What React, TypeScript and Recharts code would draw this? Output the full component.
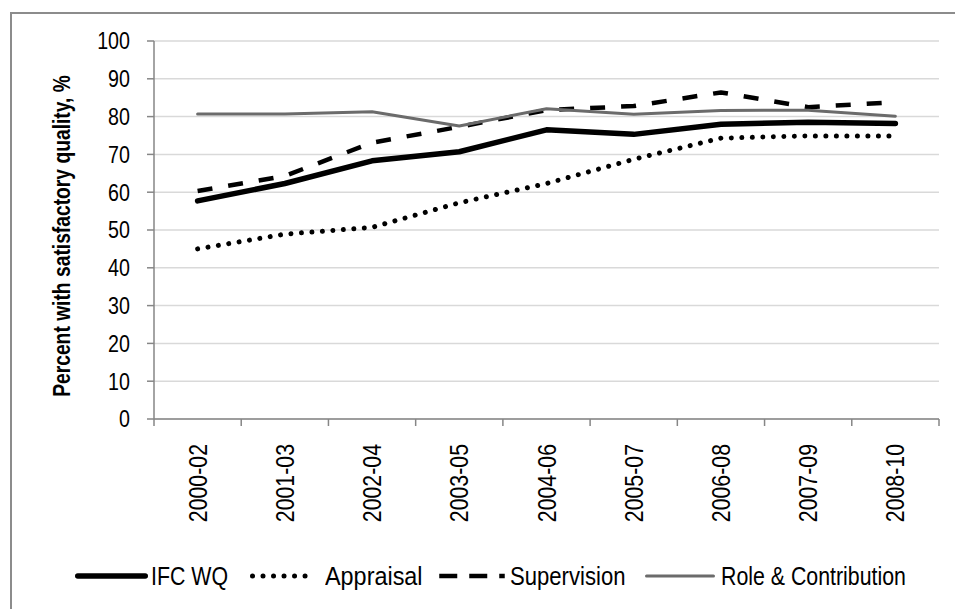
import React from 'react';
import { ComposedChart, Line, XAxis, YAxis, CartesianGrid, Legend } from 'recharts';

const categories = ['2000-02', '2001-03', '2002-04', '2003-05', '2004-06', '2005-07', '2006-08', '2007-09', '2008-10'];
const ifcWQ = [57.7, 62.3, 68.3, 70.7, 76.5, 75.3, 78.0, 78.5, 78.2];
const appraisal = [45.0, 48.9, 50.7, 57.2, 62.3, 68.7, 74.3, 74.9, 74.9];
const supervision = [60.3, 64.3, 73.1, 77.3, 81.7, 82.8, 86.4, 82.5, 83.8];
const roleContribution = [80.7, 80.7, 81.3, 77.5, 82.1, 80.6, 81.6, 81.7, 80.1];
const yTicks = [0, 10, 20, 30, 40, 50, 60, 70, 80, 90, 100];
const yTitle = 'Percent with satisfactory quality, %';

const data = categories.map((c, i) => ({
  cat: c,
  ifc: ifcWQ[i],
  appraisal: appraisal[i],
  supervision: supervision[i],
  role: roleContribution[i],
}));

const FONT = "'Liberation Sans', Arial, sans-serif";
const NARROW = 0.82;

const W = 955;
const H = 609;
const M = { top: 41, right: 16, left: 10, bottom: 80 };
const Y_W = 144;
const PLOT_W = W - M.left - M.right - Y_W;
const HALF_BAND = PLOT_W / categories.length / 2;

const series = [
  { key: 'ifc', name: 'IFC WQ', color: '#000000', width: 5.5, dash: undefined as string | undefined, legendDash: undefined as string | undefined, cap: 'round', legendLeft: 75, iconW: 73, textGap: 3, textScale: NARROW },
  { key: 'appraisal', name: 'Appraisal', color: '#000000', width: 5, dash: '0.01 10.5', legendDash: '0.01 10.5', cap: 'round', legendLeft: 250, iconW: 67, textGap: 8, textScale: 0.9 },
  { key: 'supervision', name: 'Supervision', color: '#000000', width: 4.5, dash: '15 16', legendDash: '18 12', cap: 'butt', legendLeft: 437, iconW: 70, textGap: 3, textScale: 0.85 },
  { key: 'role', name: 'Role & Contribution', color: '#6b6b6b', width: 3, dash: undefined as string | undefined, legendDash: undefined as string | undefined, cap: 'round', legendLeft: 645, iconW: 70, textGap: 6, textScale: NARROW },
];

const XTick = (props: any) => {
  const { x, y, payload, index } = props;
  const last = index === categories.length - 1;
  return (
    <g>
      <line x1={x - HALF_BAND} x2={x - HALF_BAND} y1={y} y2={y + 7} stroke="#868686" strokeWidth={1.5} />
      {last && <line x1={x + HALF_BAND} x2={x + HALF_BAND} y1={y} y2={y + 7} stroke="#868686" strokeWidth={1.5} />}
      <text
        x={0}
        y={0}
        transform={`translate(${x}, ${y + 25}) rotate(-90) scale(${NARROW}, 1)`}
        textAnchor="end"
        dy="0.35em"
        fontFamily={FONT}
        fontSize={26}
        fill="#000"
      >
        {payload.value}
      </text>
    </g>
  );
};

const YTick = (props: any) => {
  const { x, y, payload } = props;
  return (
    <text
      x={0}
      y={0}
      transform={`translate(${x}, ${y}) scale(${NARROW}, 1)`}
      textAnchor="end"
      dy="0.35em"
      fontFamily={FONT}
      fontSize={24}
      fill="#000"
    >
      {payload.value}
    </text>
  );
};

const YTitle = (props: any) => {
  const vb = props.viewBox || { y: 41, height: 378 };
  const cy = vb.y + vb.height / 2 + 6;
  return (
    <text
      x={0}
      y={0}
      transform={`translate(62, ${cy}) rotate(-90) scale(${NARROW}, 1)`}
      textAnchor="middle"
      dy="0.35em"
      fontFamily={FONT}
      fontSize={23.5}
      fontWeight="bold"
      fill="#000"
    >
      {yTitle}
    </text>
  );
};

const LegendContent = () => (
  <div style={{ position: 'relative', width: W, height: 30, fontFamily: FONT, fontSize: 26 }}>
    {series.map((s) => (
      <div key={s.key} style={{ position: 'absolute', left: s.legendLeft, top: 0, height: 30, display: 'flex', alignItems: 'center', whiteSpace: 'nowrap' }}>
        <svg width={s.iconW} height={30} style={{ display: 'block' }}>
          <line
            x1={s.width / 2}
            x2={s.iconW - s.width / 2}
            y1={15}
            y2={15}
            stroke={s.color}
            strokeWidth={s.width}
            strokeDasharray={s.legendDash}
            strokeLinecap={s.cap as any}
          />
        </svg>
        <span style={{ marginLeft: s.textGap, color: '#000', lineHeight: '30px', display: 'inline-block', transform: `scaleX(${s.textScale})`, transformOrigin: 'left center' }}>{s.name}</span>
      </div>
    ))}
  </div>
);

export default function App() {
  return (
    <div style={{ position: 'absolute', left: 0, top: 0, width: W, height: H, background: '#fff', overflow: 'hidden' }}>
      <div style={{ position: 'absolute', left: 10, top: 12, width: W, height: H, borderLeft: '2px solid #8c8c8c', borderTop: '2px solid #8c8c8c', boxSizing: 'border-box' }} />
      <ComposedChart width={W} height={H} data={data} margin={M} style={{ position: 'absolute', left: 0, top: 0 }}>
        <CartesianGrid vertical={false} stroke="#d9d9d9" strokeWidth={1.5} />
        <XAxis
          dataKey="cat"
          scale="band"
          height={110}
          interval={0}
          tickSize={0}
          tickMargin={0}
          tick={<XTick />}
          axisLine={{ stroke: '#868686', strokeWidth: 1.5 }}
          tickLine={false}
        />
        <YAxis
          width={Y_W}
          domain={[0, 100]}
          ticks={yTicks}
          interval={0}
          tickSize={7}
          tickMargin={17}
          axisLine={{ stroke: '#868686', strokeWidth: 1.5 }}
          tickLine={{ stroke: '#868686', strokeWidth: 1.5 }}
          tick={<YTick />}
          label={{ content: <YTitle />, position: 'center' }}
        />
        {series.map((s) => (
          <Line
            key={s.key}
            dataKey={s.key}
            name={s.name}
            type="linear"
            stroke={s.color}
            strokeWidth={s.width}
            strokeDasharray={s.dash}
            strokeLinecap={s.cap as any}
            strokeLinejoin="round"
            dot={false}
            activeDot={false}
            isAnimationActive={false}
          />
        ))}
        <Legend
          verticalAlign="middle"
          align="center"
          layout="horizontal"
          wrapperStyle={{ top: 561, left: 0, width: W, height: 30 }}
          content={<LegendContent />}
        />
      </ComposedChart>
    </div>
  );
}
